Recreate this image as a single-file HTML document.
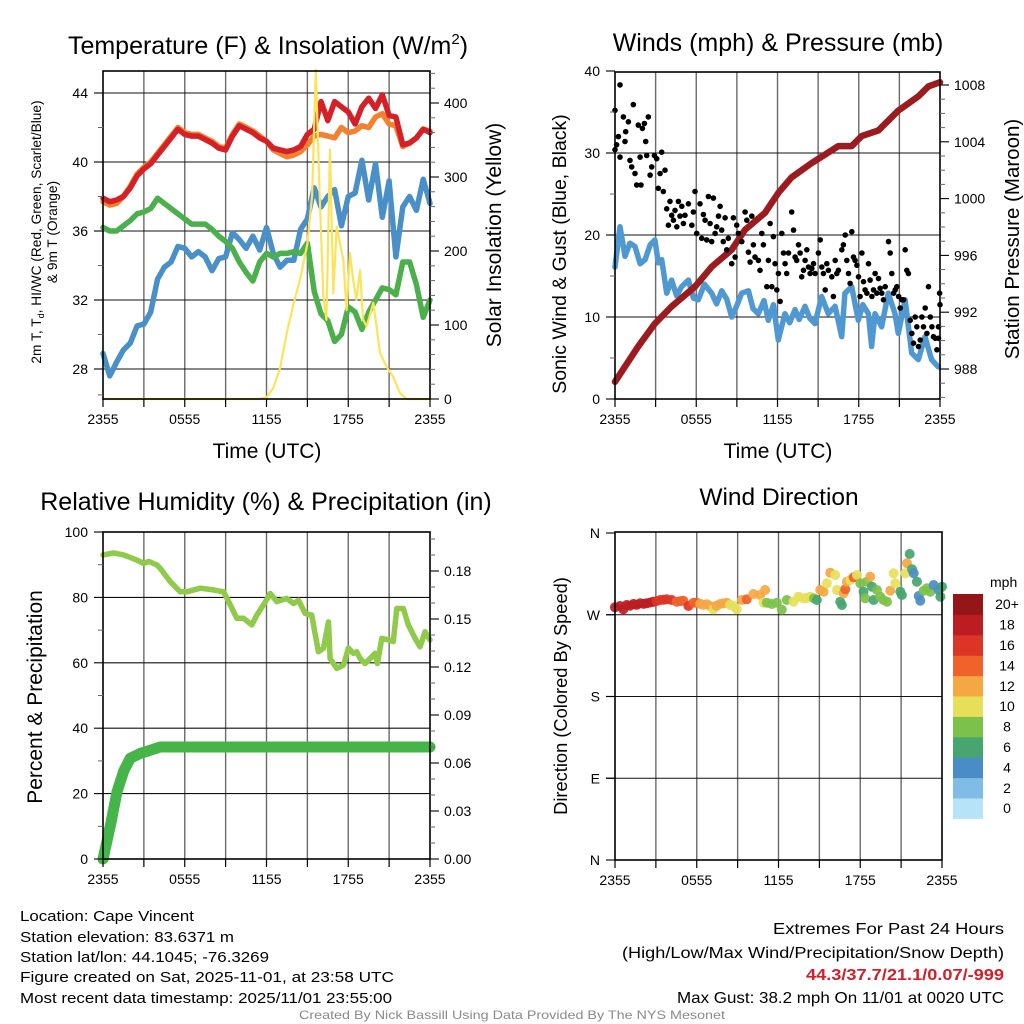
<!DOCTYPE html>
<html><head><meta charset="utf-8"><title>Cape Vincent Meteogram</title>
<style>
html,body{margin:0;padding:0;background:#fff;}
svg{display:block;font-family:"Liberation Sans",Arial,sans-serif;}
</style></head>
<body>
<svg id="chart" width="1024" height="1024" viewBox="0 0 1024 1024" xmlns="http://www.w3.org/2000/svg">
<rect x="0" y="0" width="1024" height="1024" fill="#fff"/>
<g id="layer-grid"></g>
<g id="layer-data"></g>
<g id="layer-axes"></g>

<text x="268" y="54" font-size="25" text-anchor="middle">Temperature (F) &amp; Insolation (W/m<tspan font-size="15" dy="-10">2</tspan><tspan dy="10">)</tspan></text>
<text x="778" y="51" font-size="25" text-anchor="middle">Winds (mph) &amp; Pressure (mb)</text>
<text x="266" y="510" font-size="25" text-anchor="middle">Relative Humidity (%) &amp; Precipitation (in)</text>
<text x="779" y="505" font-size="24.5" text-anchor="middle">Wind Direction</text>

<text x="267" y="458" font-size="21" text-anchor="middle">Time (UTC)</text>
<text x="778" y="458" font-size="21" text-anchor="middle">Time (UTC)</text>

<text transform="translate(41,232) rotate(-90)" font-size="13.7" text-anchor="middle">2m T, T<tspan font-size="9" dy="3">d</tspan><tspan dy="-3">, HI/WC (Red, Green, Scarlet/Blue)</tspan></text>
<text transform="translate(57,232) rotate(-90)" font-size="13.7" text-anchor="middle">&amp; 9m T (Orange)</text>
<text transform="translate(501,235) rotate(-90)" font-size="21" text-anchor="middle">Solar Insolation (Yellow)</text>
<text transform="translate(566,254) rotate(-90)" font-size="19.5" text-anchor="middle">Sonic Wind &amp; Gust (Blue, Black)</text>
<text transform="translate(1019,239) rotate(-90)" font-size="20.5" text-anchor="middle">Station Pressure (Maroon)</text>
<text transform="translate(42,697) rotate(-90)" font-size="21" text-anchor="middle">Percent &amp; Precipitation</text>
<text transform="translate(567,696) rotate(-90)" font-size="18.3" text-anchor="middle">Direction (Colored By Speed)</text>

<g font-size="15">
<text x="20" y="921" textLength="174" lengthAdjust="spacingAndGlyphs">Location: Cape Vincent</text>
<text x="20" y="942" textLength="214" lengthAdjust="spacingAndGlyphs">Station elevation: 83.6371 m</text>
<text x="20" y="962" textLength="249" lengthAdjust="spacingAndGlyphs">Station lat/lon: 44.1045; -76.3269</text>
<text x="20" y="982" textLength="374" lengthAdjust="spacingAndGlyphs">Figure created on Sat, 2025-11-01, at 23:58 UTC</text>
<text x="20" y="1003" textLength="372" lengthAdjust="spacingAndGlyphs">Most recent data timestamp: 2025/11/01 23:55:00</text>
</g>
<g font-size="16" text-anchor="end">
<text x="1004" y="934" textLength="231" lengthAdjust="spacingAndGlyphs">Extremes For Past 24 Hours</text>
<text x="1004" y="958" textLength="382" lengthAdjust="spacingAndGlyphs">(High/Low/Max Wind/Precipitation/Snow Depth)</text>
<text x="1004" y="980" font-weight="bold" fill="#d0202a" textLength="198" lengthAdjust="spacingAndGlyphs">44.3/37.7/21.1/0.07/-999</text>
<text x="1004" y="1003" textLength="327" lengthAdjust="spacingAndGlyphs">Max Gust: 38.2 mph On 11/01 at 0020 UTC</text>
</g>
<text x="512" y="1019" font-size="12" fill="#8a8a8a" text-anchor="middle" textLength="426" lengthAdjust="spacingAndGlyphs">Created By Nick Bassill Using Data Provided By The NYS Mesonet</text>
</svg>
<script>
// ===== Data =====
const timeLabels = ["2355","0555","1155","1755","2355"];
const timeLabelHours = [0,6,12,18,24];
const tempHours = [0,0.5,1,1.5,2,2.5,3,3.5,4,4.5,5,5.5,6,6.5,7,7.5,8,8.5,9,9.5,10,10.5,11,11.5,12,12.5,13,13.5,14,14.5,15,15.5,16,16.5,17,17.5,18,18.5,19,19.5,20,20.5,21,21.5,22,22.5,23,23.5,24];
const temp2m = [37.9,37.7,37.8,38.0,38.5,39.2,39.6,39.9,40.4,40.9,41.4,41.9,41.6,41.5,41.5,41.3,41.1,40.8,40.7,41.5,42.1,41.9,41.7,41.4,41.2,40.8,40.7,40.6,40.7,40.9,41.6,41.9,43.5,42.4,43.5,43.2,42.9,42.2,43.2,43.7,43.1,43.9,42.7,42.6,41.0,41.1,41.4,41.9,41.7];
const temp9m = [37.7,37.5,37.6,38.0,38.6,39.3,39.7,40.0,40.5,41.0,41.5,42.0,41.7,41.6,41.6,41.4,41.2,40.9,40.8,41.6,42.2,42.0,41.8,41.5,41.2,40.7,40.5,40.3,40.4,40.6,41.0,41.5,41.6,41.5,41.4,42.0,41.7,41.8,42.1,42.0,42.6,42.8,42.2,42.1,40.9,41.1,41.4,41.9,41.8];
const dewpoint = [36.2,36.0,36.0,36.3,36.6,37.0,37.1,37.3,37.9,37.6,37.3,37.0,36.7,36.4,36.4,36.4,36.1,35.7,35.4,35.0,34.2,33.6,33.1,34.2,34.7,34.5,34.7,34.7,34.8,34.7,35.3,32.5,31.2,30.8,29.6,30.0,31.6,31.3,30.3,31.3,32.0,32.7,32.6,32.3,34.2,34.2,32.9,31.0,32.0];
const windChill = [28.9,27.6,28.4,29.1,29.5,30.5,30.6,31.3,33.2,33.9,34.2,35.1,35.0,34.5,34.8,34.5,33.7,34.4,34.5,35.9,35.5,35.0,35.7,34.9,36.2,34.7,33.9,34.3,34.3,36.1,36.7,38.5,37.4,38.0,38.4,36.3,38.0,38.2,40.1,37.8,39.9,36.8,38.9,34.5,37.4,38.0,37.2,39.0,37.6];
const insolHours = [0,11.5,12,12.5,13,13.5,14,14.5,15,15.35,15.62,15.9,16.17,16.4,16.66,16.9,17.15,17.64,17.88,18.13,18.37,18.6,18.86,19.1,19.35,19.84,20.08,20.33,20.8,21.3,21.8,22.3,24];
const insolation = [0,0,2,15,42,90,130,165,210,275,445,278,140,107,337,143,233,188,120,197,160,134,174,107,98,130,98,62,44,30,8,0,0];

const windHours = [0,0.37,0.74,1.1,1.48,1.85,2.22,2.6,2.95,3.2,3.45,3.82,4.18,4.55,4.92,5.42,5.8,6.15,6.6,7.14,7.5,7.88,8.25,8.62,9.0,9.35,9.85,10.2,10.58,11.0,11.32,11.7,12.06,12.55,12.9,13.29,13.6,14.03,14.4,14.77,15.26,15.75,16.25,16.74,16.98,17.48,17.97,18.3,18.71,18.95,19.2,19.69,20.18,20.68,20.92,21.42,21.91,22.4,22.89,23.38,23.88];
const windMph = [16.1,21.0,17.4,19.0,18.6,16.5,17.0,18.8,19.4,16.6,17.0,12.9,14.5,12.6,13.7,14.5,12.3,12.1,14.0,12.9,11.6,13.2,12.2,10.0,11.4,12.9,13.2,11.0,10.4,12.0,9.6,11.5,7.2,10.4,9.3,10.9,9.7,11.3,9.8,9.2,12.5,10.4,11.3,7.6,12.9,13.7,9.6,11.5,10.4,6.4,10.4,8.8,12.9,10.4,8.0,12.1,5.6,4.8,7.6,4.8,3.9];
const pressHours = [0,1.72,2.95,4.18,5.91,7.14,8.62,9.6,11.08,12.06,13.05,14.52,16.49,17.48,18.22,19.45,20.92,22.4,23.14,24];
const pressure = [987.1,989.6,991.2,992.4,993.8,995.2,996.4,997.8,999.0,1000.4,1001.5,1002.5,1003.7,1003.7,1004.4,1004.8,1006.2,1007.2,1007.9,1008.2];
const gustHours = [0,0.37,0,0.25,0.12,0.37,0.62,0.74,0.79,0.99,1.11,1.23,1.35,1.48,1.6,1.72,1.85,1.92,2.02,2.17,2.27,2.34,2.46,2.59,2.71,2.91,3.08,3.2,3.33,3.45,3.57,3.69,3.82,3.94,4.06,4.19,4.31,4.43,4.56,4.68,4.8,4.93,5.05,5.17,5.42,5.67,5.79,5.91,6.03,6.28,6.4,6.53,6.65,6.77,6.9,7.02,7.14,7.27,7.39,7.51,7.64,7.76,7.88,8.0,8.13,8.25,8.37,8.62,8.74,8.87,8.99,9.11,9.36,9.61,9.73,9.85,9.98,10.1,10.22,10.34,10.59,10.71,10.84,10.96,11.21,11.33,11.45,11.58,11.7,11.82,11.95,12.07,12.19,12.32,12.44,12.56,12.68,12.81,13.05,13.18,13.3,13.42,13.55,13.67,13.79,13.92,14.04,14.16,14.29,14.41,14.53,14.66,14.78,15.02,15.15,15.27,15.39,15.52,15.64,15.76,16.01,16.13,16.26,16.38,16.5,16.75,16.87,17.0,17.12,17.24,17.36,17.49,17.61,17.73,17.86,17.98,18.1,18.23,18.35,18.47,18.6,18.72,18.84,18.97,19.09,19.21,19.33,19.46,19.58,19.7,19.83,19.95,20.2,20.32,20.44,20.57,20.69,20.81,20.94,21.06,21.18,21.31,21.43,21.55,21.67,21.8,21.92,22.04,22.17,22.29,22.41,22.54,22.66,22.78,22.91,23.03,23.15,23.28,23.4,23.52,23.65,23.77,23.89,23.97,24.0,23.89];
const gustMph = [35.2,38.3,30.4,32.0,31.0,29.5,34.4,31.4,32.6,33.8,29.1,28.3,35.9,27.5,26.1,33.4,29.5,26.1,33.0,33.6,31.4,29.7,34.4,27.3,28.3,29.7,29.3,25.7,27.5,30.1,25.3,27.9,23.2,21.2,24.1,22.4,21.8,23.0,21.0,24.1,22.3,23.5,21.4,22.4,23.8,21.2,22.8,25.3,20.2,23.8,19.6,22.5,21.8,19.4,24.7,21.4,19.2,24.5,20.2,21.0,22.3,23.5,20.6,19.2,22.1,18.2,19.6,16.5,22.1,17.3,21.2,20.2,19.2,22.8,21.8,17.9,16.7,22.3,18.8,17.3,16.9,15.7,20.2,18.8,13.7,16.9,21.4,13.7,19.8,16.5,13.3,15.3,11.9,20.2,17.8,16.5,15.3,17.8,22.8,20.6,17.3,16.9,18.8,17.8,14.9,15.7,16.9,18.2,16.1,15.3,15.9,16.5,15.3,17.8,19.4,16.1,15.3,13.3,16.5,15.7,14.9,12.5,16.9,15.3,15.7,18.2,18.8,20.0,16.9,15.3,14.1,20.4,17.3,16.9,16.3,14.9,12.5,17.8,14.3,13.3,12.9,16.5,14.5,12.5,13.3,15.3,12.9,14.7,13.5,12.9,12.1,13.7,19.2,17.8,15.3,12.9,13.3,13.7,12.5,11.1,12.1,12.1,18.2,15.7,15.3,9.6,8.0,6.8,10.0,8.8,6.4,7.2,10.0,8.8,11.1,8.0,13.7,10.0,8.8,7.6,7.4,6.0,8.8,12.9,11.5,7.4];

const rhHours = [0,0.78,1.52,2.49,2.98,3.35,3.96,4.2,4.94,5.67,6.16,7.14,8.11,8.85,9.34,9.82,10.31,10.92,11.29,11.78,12.27,12.76,13.49,13.98,14.35,14.83,15.32,15.81,16.18,16.55,16.67,17.16,17.65,18.01,18.38,18.62,18.87,19.24,19.6,19.97,20.14,20.46,20.95,21.31,21.56,22.04,22.41,22.9,23.27,23.63,24];
const relHumidity = [93.0,93.6,93.0,91.4,90.4,91.0,89.9,88.9,84.8,81.7,81.7,82.8,82.3,81.7,77.7,73.6,73.6,71.6,74.6,77.7,81.2,78.7,79.7,78.1,79.1,75.1,74.6,63.4,64.5,72.5,61.3,58.3,59.3,64.5,62.9,63.4,61.3,59.8,61.3,62.9,59.8,67.5,67.0,66.5,76.6,76.6,71.6,67.5,64.9,69.5,67.0];
const precipHours = [0,0.54,1.03,1.52,2.0,2.74,3.47,4.2,24];
const precipIn = [0,0.021,0.042,0.055,0.063,0.066,0.068,0.070,0.070];

const dirHours = [0,0.37,0.61,0.86,1.1,1.35,1.6,1.84,2.1,2.33,2.6,2.82,3.05,3.31,3.55,3.8,4.16,4.53,4.8,5.02,5.39,5.76,6.0,6.25,6.49,6.75,6.98,7.22,7.45,7.71,7.95,8.2,8.45,8.69,8.94,9.31,9.67,10.16,10.65,11.02,10.9,11.14,11.51,11.88,12.24,12.61,13.1,13.47,13.84,14.1,14.33,14.6,14.82,15.06,15.31,15.55,15.8,16.16,16.29,16.53,16.65,16.78,16.9,17.02,17.27,17.51,17.76,18.0,18.24,18.37,18.49,18.73,18.86,18.98,19.22,19.47,19.71,19.96,20.2,20.45,20.57,20.94,21.06,21.31,21.43,21.63,21.8,21.92,22.16,22.29,22.41,22.65,22.9,23.14,23.39,23.76,23.88,24.0];
const dirDeg = [278.2,279.6,276.0,280.7,280.0,281.8,281.0,282.6,282.0,282.6,283.5,284.4,285.0,286.2,286.5,287.0,286.2,284.4,285.0,285.5,279.6,283.3,283.3,282.0,281.0,281.5,279.6,276.0,280.0,281.8,282.5,283.3,281.0,279.6,276.0,286.2,287.0,292.8,291.7,297.2,283.3,283.3,281.8,283.3,275.6,286.2,284.4,289.9,288.1,288.5,289.9,288.0,286.2,297.2,295.4,304.6,316.3,313.8,297.2,284.4,280.7,293.6,298.0,306.4,308.3,311.2,313.8,304.6,295.4,288.1,306.4,311.9,300.9,286.2,297.2,289.9,286.2,284.4,296.5,315.6,304.6,295.4,291.7,315.6,326.6,336.9,320.0,315.6,306.4,290.6,285.5,296.5,299.1,295.4,302.7,297.2,289.9,300.9];
const dirSpeed = [18,19,19,18,18,18,18,18,18,18,18,18,17,17,17,17,16,15,15,15,16,14,14,13,12,12,12,11,12,12,12,12,11,10,10,12,15,12,12,12,10,8,9,8,8,8,10,10,10,10,10,9,7,12,13,11,12,10,11,7,6,12,15,12,10,15,10,9,7,8,8,12,7,7,9,8,8,8,12,10,10,6,6,10,12,6,6,5,6,4,4,8,8,8,4,4,6,6];

const speedBinLabels = ["0","2","4","6","8","10","12","14","16","18","20+"];
const speedBinColors = ["#b6e3f8","#80bde6","#4a8dc6","#47a570","#7cc14a","#e6df59","#f5a743","#ef6229","#dc3426","#bc1d23","#941619"];

// ===== Helpers =====
const NS = "http://www.w3.org/2000/svg";
const gGrid = document.getElementById('layer-grid');
const gData = document.getElementById('layer-data');
const gAxes = document.getElementById('layer-axes');
function mk(tag, attrs, parent) {
  const e = document.createElementNS(NS, tag);
  for (const k in attrs) e.setAttribute(k, attrs[k]);
  parent.appendChild(e);
  return e;
}
const P1 = {x0:103,x1:430,yt:71,yb:399};
const P2 = {x0:615,x1:940,yt:72,yb:399};
const P3 = {x0:103,x1:430,yt:532,yb:859};
const P4 = {x0:615,x1:942,yt:532,yb:860};
function xs(p, t) { return p.x0 + t / 24 * (p.x1 - p.x0); }
const yTemp = v => 93 + (44 - v) * 17.25;
const yInsol = v => 399 - v * 0.74;
const ySpeed = v => 399 - v * 8.2;
const yPress = v => 369 - (v - 988) * 14.2;
const yRH = v => 859 - v * 3.27;
const yPrecip = v => 859 - v * 1600;
const yDir = v => 860 - v * 327 / 360;

function linePath(p, hours, vals, yf) {
  let d = "";
  for (let i = 0; i < hours.length; i++) {
    d += (i ? "L" : "M") + xs(p, hours[i]).toFixed(1) + "," + yf(vals[i]).toFixed(1);
  }
  return d;
}

function drawPanel(p, key, hGrid, leftTicks, leftMinor, rightTicks, rightMinor) {
  for (let t = 3; t < 24; t += 3) {
    const l = mk('line', {x1:xs(p,t), x2:xs(p,t), y1:p.yt, y2:p.yb, stroke:'#6a6a6a', 'stroke-width':1.4}, gGrid);
    
    
  }
  hGrid.forEach(y => {
    const l = mk('line', {x1:p.x0, x2:p.x1, y1:y, y2:y, stroke:'#111', 'stroke-width':1.1}, gGrid);
    
    
  });
  const fr = mk('rect', {x:p.x0, y:p.yt, width:p.x1-p.x0, height:p.yb-p.yt, fill:'none', stroke:'#000', 'stroke-width':1.6}, gAxes);
  
  
  for (let t = 0; t <= 24; t += 3) {
    const tk = mk('line', {x1:xs(p,t), x2:xs(p,t), y1:p.yb, y2:p.yb+8, stroke:'#000', 'stroke-width':1.2}, gAxes);
    
    
  }
  timeLabelHours.forEach((t, i) => {
    const tx = mk('text', {x:xs(p,t), y:p.yb+25, 'font-size':14, 'text-anchor':'middle'}, gAxes);
    tx.textContent = timeLabels[i];
    
    
  });
  leftTicks.forEach(o => {
    const tk = mk('line', {x1:p.x0-9, x2:p.x0, y1:o.y, y2:o.y, stroke:'#000', 'stroke-width':1.1}, gAxes);
    
    
    const tx = mk('text', {x:p.x0-15, y:o.y+5, 'font-size':14, 'text-anchor':'end'}, gAxes);
    tx.textContent = o.label;
    
    
  });
  leftMinor.forEach(y => {
    const tk = mk('line', {x1:p.x0-5, x2:p.x0, y1:y, y2:y, stroke:'#666', 'stroke-width':1}, gAxes);
    
    
  });
  rightTicks.forEach(o => {
    const tk = mk('line', {x1:p.x1, x2:p.x1+9, y1:o.y, y2:o.y, stroke:'#000', 'stroke-width':1.1}, gAxes);
    
    
    const tx = mk('text', {x:p.x1+14, y:o.y+5, 'font-size':14, 'text-anchor':'start'}, gAxes);
    tx.textContent = o.label;
    
    
  });
  rightMinor.forEach(y => {
    const tk = mk('line', {x1:p.x1, x2:p.x1+5, y1:y, y2:y, stroke:'#666', 'stroke-width':1}, gAxes);
    
    
  });
}

const tempTicks = [28,32,36,40,44];
const tempMinor = [26.5,30,34,38,42];
const insolTicks = [0,100,200,300,400];
const speedTicks = [0,10,20,30,40];
const speedMinor = [5,15,25,35];
const pressTicks = [988,992,996,1000,1004,1008];
const rhTicks = [0,20,40,60,80,100];
const rhMinor = [10,30,50,70,90];
const precipTicks = [0,0.03,0.06,0.09,0.12,0.15,0.18];
const dirTicks = [360,270,180,90,0];
const dirTickLabels = ["N","W","S","E","N"];

const insolMinor = [];
for (let v = 20; v <= 440; v += 20) if (v % 100) insolMinor.push(yInsol(v));
drawPanel(P1, 'temperature', tempTicks.map(yTemp),
  tempTicks.map(v => ({y:yTemp(v), label:String(v)})), tempMinor.filter(v=>v>26.3).map(yTemp),
  insolTicks.map(v => ({y:yInsol(v), label:String(v)})), insolMinor);
const pressMinor = [];
for (let v = 986; v <= 1008; v += 1) if (v % 4) pressMinor.push(yPress(v));
drawPanel(P2, 'wind', [10,20,30].map(ySpeed),
  speedTicks.map(v => ({y:ySpeed(v), label:String(v)})), speedMinor.map(ySpeed),
  pressTicks.map(v => ({y:yPress(v), label:String(v)})), pressMinor);
const precipMinor = [];
for (let k = 1; k <= 20; k++) if (k % 3) precipMinor.push(yPrecip(k / 100));
drawPanel(P3, 'humidity', [20,40,60,80].map(yRH),
  rhTicks.map(v => ({y:yRH(v), label:String(v)})), rhMinor.map(yRH),
  precipTicks.map(v => ({y:yPrecip(v), label:v.toFixed(2)})), precipMinor);
drawPanel(P4, 'direction', [270,180,90].map(yDir),
  dirTicks.map((v,i) => ({y:yDir(v), label:dirTickLabels[i]})), [], [], []);
[270,180,90].forEach(v => {
  const l = mk('line', {x1:P4.x0-9, x2:P4.x0, y1:yDir(v), y2:yDir(v), stroke:'#000', 'stroke-width':1.1}, gAxes);
  
  
});

function addLine(p, hours, vals, yf, color, width, name) {
  const e = mk('path', {d:linePath(p, hours, vals, yf), fill:'none', stroke:color, 'stroke-width':width, 'stroke-linejoin':'round', 'stroke-linecap':'round'}, gData);
  
  
}
addLine(P1, tempHours, windChill, yTemp, '#4a90c8', 5.5, 'wind-chill-line');
addLine(P1, tempHours, dewpoint, yTemp, '#4bb04b', 5.5, 'dewpoint-line');
addLine(P1, tempHours, temp9m, yTemp, '#f4812f', 5.5, 'temperature-9m-line');
addLine(P1, tempHours, temp2m, yTemp, '#d52027', 5.5, 'temperature-2m-line');
addLine(P1, insolHours, insolation, yInsol, '#fbe35b', 2.2, 'insolation-line');

addLine(P2, windHours, windMph, ySpeed, '#4f98d2', 5.5, 'sonic-wind-line');
addLine(P2, pressHours, pressure, yPress, '#9b1b1f', 6.5, 'pressure-line');
gustHours.forEach((t, i) => {
  const c = mk('circle', {cx:xs(P2, t).toFixed(1), cy:ySpeed(gustMph[i]).toFixed(1), r:2.8, fill:'#000'}, gData);
  
  
});

addLine(P3, rhHours, relHumidity, yRH, '#8fca4b', 5.5, 'relative-humidity-line');
addLine(P3, precipHours, precipIn, yPrecip, '#46b549', 11, 'precipitation-line');

function speedColor(s) { return speedBinColors[Math.min(10, Math.max(0, Math.floor(s / 2)))]; }
dirHours.forEach((t, i) => {
  const c = mk('circle', {cx:xs(P4, t).toFixed(1), cy:yDir(dirDeg[i]).toFixed(1), r:5, fill:speedColor(dirSpeed[i]), 'fill-opacity':0.92}, gData);
  
  
});

const cbTop = 594, cbBin = 20.4;
speedBinColors.forEach((col, i) => {
  const y = cbTop + (10 - i) * cbBin;
  const r = mk('rect', {x:953, y:y.toFixed(1), width:30, height:(cbBin+0.5).toFixed(1), fill:col}, gAxes);
  
  
  const tx = mk('text', {x:1007, y:(y + cbBin/2 + 5).toFixed(1), 'font-size':14, 'text-anchor':'middle'}, gAxes);
  tx.textContent = speedBinLabels[i];
  
  
});
const mph = mk('text', {x:990, y:587, 'font-size':14}, gAxes);
mph.textContent = 'mph';


</script>
</body></html>
